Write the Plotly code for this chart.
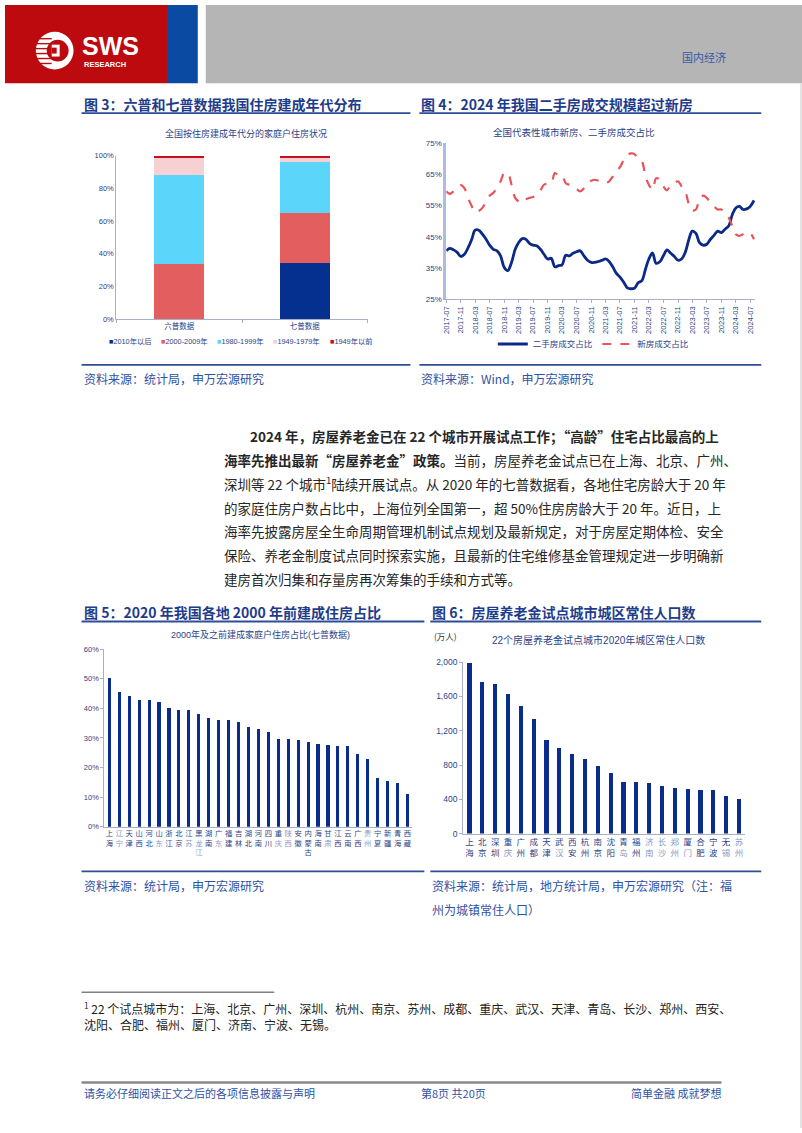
import plotly.graph_objects as go
import pandas as pd

W, H = 802, 1133


def px(x):
    return x / W


def py(y):
    return 1 - y / H


# ---------------- data ----------------
census_cats = ["六普数据", "七普数据"]
era_names = ["2010年以后", "2000-2009年", "1980-1999年", "1949-1979年", "1949年以前"]
era_colors = ["#06308F", "#E35F5F", "#5CD5FA", "#F7D0D4", "#C4101E"]
era_6th = [0.0, 34.0, 54.3, 10.4, 1.3]
era_7th = [34.5, 30.5, 31.0, 3.1, 0.9]

month_start = "2017-07-01"
second_hand = [40.5, 41.3, 40.8, 40.0, 38.7, 39.4, 41.5, 44.2, 47.1, 47.1, 45.8, 44.2,
               42.3, 41.0, 40.5, 38.9, 35.2, 34.2, 36.8, 41.0, 43.1, 44.4, 44.2, 42.9,
               42.3, 42.1, 41.0, 39.4, 37.9, 38.1, 35.4, 35.8, 36.0, 39.1, 38.9, 39.7,
               40.2, 40.5, 38.9, 37.5, 36.8, 36.8, 37.1, 37.5, 37.9, 37.1, 35.4, 33.3,
               32.1, 30.5, 28.7, 28.4, 28.6, 30.3, 31.0, 34.7, 37.9, 39.8, 36.5, 37.0,
               38.9, 40.8, 39.7, 38.7, 37.5, 37.9, 40.0, 44.2, 46.8, 46.1, 43.1, 42.3,
               42.6, 44.2, 45.5, 46.8, 46.3, 47.4, 48.4, 52.1, 54.2, 54.7, 53.7, 53.9,
               54.7, 56.6]
new_house = [59.5, 58.7, 59.5, 60.2, 61.5, 60.5, 57.4, 54.7, 52.8, 53.2, 54.2, 56.3,
             58.1, 59.0, 60.5, 62.7, 65.3, 65.3, 61.6, 57.4, 56.3, 55.8, 56.9, 57.4,
             57.7, 58.4, 59.8, 61.6, 62.0, 62.1, 65.3, 64.5, 64.5, 62.1, 61.6, 61.1,
             60.2, 59.5, 60.5, 62.1, 62.9, 63.2, 62.9, 62.4, 62.1, 62.7, 64.2, 66.1,
             67.2, 69.5, 71.1, 71.6, 71.4, 69.5, 69.0, 64.2, 61.6, 60.0, 63.7, 63.2,
             61.1, 59.8, 61.6, 62.1, 62.7, 61.1, 59.5, 55.3, 53.4, 53.7, 57.1, 58.1,
             57.4, 55.8, 54.7, 53.7, 53.7, 52.6, 51.1, 48.4, 45.8, 45.3, 45.8, 46.3,
             46.1, 44.2]

provinces = ["上海", "辽宁", "天津", "山西", "河北", "山东", "浙江", "北京", "江苏", "黑龙江",
             "湖南", "广东", "福建", "吉林", "湖北", "河南", "四川", "重庆", "陕西", "安徽",
             "内蒙古", "海南", "甘肃", "江西", "云南", "广西", "贵州", "宁夏", "新疆", "青海", "西藏"]
old_share = [50.3, 45.5, 44.1, 42.8, 42.7, 42.2, 40.2, 39.4, 39.3, 38.0,
             36.9, 36.1, 36.0, 35.5, 33.6, 33.0, 32.1, 29.6, 29.5, 29.2,
             28.8, 27.8, 27.5, 27.4, 27.2, 24.6, 22.8, 16.4, 15.6, 14.7, 11.2]

cities = ["上海", "北京", "深圳", "重庆", "广州", "成都", "天津", "武汉", "西安", "杭州", "南京",
          "沈阳", "青岛", "福州", "济南", "长沙", "郑州", "厦门", "合肥", "宁波", "无锡", "苏州"]
city_pop = [1988, 1768, 1741, 1632, 1486, 1335, 1091, 994, 928, 874, 789,
            708, 603, 600, 588, 553, 534, 515, 511, 507, 441, 402]

pct_ticks_a = [0, 20, 40, 60, 80, 100]
pct_ticks_b = [25, 35, 45, 55, 65, 75]
pct_ticks_c = [0, 10, 20, 30, 40, 50, 60]
pop_ticks = [0, 400, 800, 1200, 1600, 2000]

# ---------------- styles ----------------
FONT = "Liberation Sans, Noto Sans CJK SC, sans-serif"
CJK = "Noto Sans CJK SC, sans-serif"
BLUE_TXT = "#2B3F88"
LIGHT_TXT = "#8C98C4"
TITLE_BLUE = "#1E3C8C"
SRC_BLUE = "#2F51A3"
AXIS_GRAY = "#A8AFC8"
BAR_BLUE = "#0A2C8D"


def stacked(name, light_set):
    out = []
    for ch in name:
        if ch in light_set:
            out.append(f"<span style='color:{LIGHT_TXT}'>{ch}</span>")
        else:
            out.append(ch)
    return "<br>".join(out)


def pct(vals):
    return [f"{v}%" for v in vals]


light_prov = {"辽宁": set("辽宁"), "山东": set("东"), "江苏": set("苏"), "黑龙江": set("龙江"),
              "广东": set("东"), "重庆": set("庆"), "陕西": set("陕西"), "甘肃": set("肃"),
              "贵州": set("贵州")}
light_city = {"重庆": set("庆"), "武汉": set("汉"), "青岛": set("岛"), "济南": set("济南"),
              "长沙": set("长沙"), "郑州": set("郑州"), "厦门": set("门"), "无锡": set("锡"),
              "苏州": set("苏州")}

fig = go.Figure()

# ---------- chart 3: stacked bars ----------
for i, nm in enumerate(era_names):
    fig.add_trace(go.Bar(
        x=census_cats, y=[era_6th[i], era_7th[i]], name=nm,
        marker=dict(color=era_colors[i], line=dict(width=0)),
        width=0.4, xaxis="x", yaxis="y", showlegend=False))

# ---------- chart 4: lines ----------
dates = pd.date_range(month_start, periods=len(second_hand), freq="MS")
fig.add_trace(go.Scatter(x=dates, y=second_hand, name="二手房成交占比", mode="lines",
                         line=dict(color="#0B2A88", width=2.8, shape="spline"),
                         xaxis="x2", yaxis="y2"))
fig.add_trace(go.Scatter(x=dates, y=new_house, name="新房成交占比", mode="lines",
                         line=dict(color="#E8545A", width=2.2, dash="dash", shape="spline"),
                         xaxis="x2", yaxis="y2"))

# ---------- chart 5 ----------
fig.add_trace(go.Bar(x=list(range(len(provinces))), y=old_share, width=0.32,
                     marker=dict(color=BAR_BLUE, line=dict(width=0)),
                     xaxis="x3", yaxis="y3", showlegend=False))

# ---------- chart 6 ----------
fig.add_trace(go.Bar(x=list(range(len(cities))), y=city_pop, width=0.33,
                     marker=dict(color=BAR_BLUE, line=dict(width=0)),
                     xaxis="x4", yaxis="y4", showlegend=False))


def tickfont(s):
    return dict(family=FONT, size=s, color=BLUE_TXT)


layout = dict(
    width=W, height=H, margin=dict(l=0, r=0, t=0, b=0),
    paper_bgcolor="white", plot_bgcolor="rgba(0,0,0,0)",
    barmode="stack", font=dict(family=FONT),
    showlegend=True,
    legend=dict(orientation="h", x=px(592), y=py(342), xanchor="center", yanchor="middle",
                font=dict(family=CJK, size=8.5, color=BLUE_TXT), bgcolor="rgba(0,0,0,0)",
                itemwidth=30, traceorder="normal"),
    # chart 3
    xaxis=dict(domain=[px(112), px(365)], anchor="y", showgrid=False, showline=True,
               linecolor=AXIS_GRAY, linewidth=1, ticks="outside", ticklen=3,
               tickcolor=AXIS_GRAY, tickson="boundaries", tickangle=0,
               tickfont=dict(family=CJK, size=7.5, color=BLUE_TXT)),
    yaxis=dict(domain=[py(317), py(152)], anchor="x", range=[0, 100], tickvals=pct_ticks_a,
               ticktext=pct(pct_ticks_a), showgrid=False, showline=True, linecolor=AXIS_GRAY,
               linewidth=1, ticks="", tickfont=tickfont(7.5), zeroline=False),
    # chart 4
    xaxis2=dict(domain=[px(444), px(755)], anchor="y2", type="date",
                range=["2017-07-01", "2024-08-12"], tick0="2017-07-01", dtick="M4",
                tickformat="%Y-%m", tickangle=-90, showgrid=False, showline=True,
                linecolor=AXIS_GRAY, linewidth=1, ticks="outside", ticklen=3,
                tickcolor=AXIS_GRAY, tickfont=tickfont(7.5)),
    yaxis2=dict(domain=[py(297), py(139)], anchor="x2", range=[25, 75], tickvals=pct_ticks_b,
                ticktext=pct(pct_ticks_b), showgrid=False, showline=True, linecolor="#AEBBE0",
                linewidth=2.5, ticks="", tickfont=tickfont(8), zeroline=False),
    # chart 5
    xaxis3=dict(domain=[px(100), px(410)], anchor="y3", range=[-0.5, len(provinces) - 0.5],
                tickvals=list(range(len(provinces))),
                ticktext=[stacked(p, light_prov.get(p, set())) for p in provinces],
                tickangle=0, showgrid=False, showline=True, linecolor=AXIS_GRAY, linewidth=1,
                ticks="", tickfont=dict(family=CJK, size=7.3, color=BLUE_TXT)),
    yaxis3=dict(domain=[py(829), py(650)], anchor="x3", range=[0, 60], tickvals=pct_ticks_c,
                ticktext=pct(pct_ticks_c), showgrid=False, showline=True, linecolor=AXIS_GRAY,
                linewidth=1, ticks="outside", ticklen=3, tickcolor=AXIS_GRAY,
                tickfont=tickfont(7.5), zeroline=False),
    # chart 6
    xaxis4=dict(domain=[px(461), px(745)], anchor="y4", range=[-0.5, len(cities) - 0.5],
                tickvals=list(range(len(cities))),
                ticktext=[stacked(c, light_city.get(c, set())) for c in cities],
                tickangle=0, showgrid=False, showline=True, linecolor=AXIS_GRAY, linewidth=1,
                ticks="", tickfont=dict(family=CJK, size=8.5, color=BLUE_TXT)),
    yaxis4=dict(domain=[py(836), py(663)], anchor="x4", range=[0, 2000], tickvals=pop_ticks,
                tickformat=",", showgrid=False, showline=True, linecolor=AXIS_GRAY,
                linewidth=1, ticks="outside", ticklen=3, tickcolor=AXIS_GRAY,
                tickfont=tickfont(8.5), zeroline=False),
)

shapes = []


def rect(x0, y0, x1, y1, color):
    shapes.append(dict(type="rect", xref="paper", yref="paper", x0=px(x0), x1=px(x1),
                       y0=py(y1), y1=py(y0), fillcolor=color, line=dict(width=0), layer="below"))


def hline(x0, x1, y, color, width):
    shapes.append(dict(type="line", xref="paper", yref="paper", x0=px(x0), x1=px(x1),
                       y0=py(y), y1=py(y), line=dict(color=color, width=width)))


# header
rect(0, 0, 163, 79, "#BC0A0F")
rect(163, 0, 194, 79, "#0B4AA3")
rect(202, 0, 802, 79, "#B5B5B5")
# logo
shapes.append(dict(type="circle", xref="paper", yref="paper", x0=px(31), x1=px(69),
                   y0=py(65), y1=py(27), fillcolor="white", line=dict(width=0)))
shapes.append(dict(type="circle", xref="paper", yref="paper", x0=px(42), x1=px(64),
                   y0=py(57), y1=py(35), fillcolor="#BC0A0F", line=dict(width=0)))
for yy in [34, 39, 44, 49, 54, 59]:
    hline(31, 47, yy, "#BC0A0F", 1.4)
shapes.append(dict(type="rect", xref="paper", yref="paper", x0=px(47), x1=px(55),
                   y0=py(52), y1=py(40), fillcolor="white", line=dict(width=0)))
shapes.append(dict(type="rect", xref="paper", yref="paper", x0=px(47), x1=px(52),
                   y0=py(49), y1=py(43), fillcolor="#BC0A0F", line=dict(width=0)))

# section rules
LINE_BLUE = "#2E4C98"
hline(77, 408, 109, LINE_BLUE, 1.8)
hline(417, 761, 109, LINE_BLUE, 1.8)
hline(77, 408, 363, LINE_BLUE, 1.8)
hline(417, 761, 363, LINE_BLUE, 1.8)
hline(77, 422, 622, LINE_BLUE, 1.8)
hline(428, 761, 622, LINE_BLUE, 1.8)
hline(77, 422, 874, LINE_BLUE, 1.8)
hline(428, 761, 874, LINE_BLUE, 1.8)
hline(77, 271, 996, "#808080", 1.5)
hline(77, 721, 1087, "#8A8A8A", 2.5)
# page border
shapes.append(dict(type="line", xref="paper", yref="paper", x0=px(801), x1=px(801),
                   y0=py(1133), y1=py(79), line=dict(color="#C8C8C8", width=1)))

annotations = []


def text(x, y, s, size, color, family=CJK, xanchor="left", yanchor="middle"):
    annotations.append(dict(x=px(x), y=py(y), xref="paper", yref="paper", text=s,
                            showarrow=False, xanchor=xanchor, yanchor=yanchor,
                            font=dict(family=family, size=size, color=color)))


text(106, 41, "<b>SWS</b>", 25, "white", family="Liberation Sans, Arial", xanchor="center")
text(77, 60, "<b>RESEARCH</b>", 7.5, "white", family="Liberation Sans, Arial")
text(703, 52, "国内经济", 11, "#3A5AA8", xanchor="center")

# chart titles
text(77, 100, "<b>图 3：六普和七普数据我国住房建成年代分布</b>", 14, TITLE_BLUE)
text(417, 100, "<b>图 4：2024 年我国二手房成交规模超过新房</b>", 14, TITLE_BLUE)
text(77, 612, "<b>图 5：2020 年我国各地 2000 年前建成住房占比</b>", 14, TITLE_BLUE)
text(428, 612, "<b>图 6：房屋养老金试点城市城区常住人口数</b>", 14, TITLE_BLUE)

# inner chart titles
text(243, 130, "全国按住房建成年代分的家庭户住房状况", 9, BLUE_TXT, xanchor="center")
text(573, 128, "全国代表性城市新房、二手房成交占比", 9.5, BLUE_TXT, xanchor="center")
text(257, 635, "2000年及之前建成家庭户住房占比(七普数据)", 9, BLUE_TXT, family=FONT,
     xanchor="center")
text(597, 641, "22个房屋养老金试点城市2020年城区常住人口数", 10, BLUE_TXT, family=FONT,
     xanchor="center")
text(443, 637, "(万人)", 8.5, "#333333", xanchor="center")

# chart 3 legend
leg_x = [103, 155, 211, 268, 325]
for i, nm in enumerate(era_names):
    text(leg_x[i], 340, f"<span style='color:{era_colors[i]}'>■</span>{nm}", 7.3, BLUE_TXT,
         family=FONT)

# sources
text(77, 377, "资料来源：统计局，申万宏源研究", 12, SRC_BLUE)
text(417, 377, "资料来源：Wind，申万宏源研究", 12, SRC_BLUE)
text(77, 888, "资料来源：统计局，申万宏源研究", 12, SRC_BLUE)
text(428, 888, "资料来源：统计局，地方统计局，申万宏源研究（注：福", 12, SRC_BLUE)
text(428, 913, "州为城镇常住人口）", 12, SRC_BLUE)

# paragraph
para = [
    (245, "<b>2024 年，房屋养老金已在 22 个城市开展试点工作；“高龄”住宅占比最高的上</b>"),
    (218, "<b>海率先推出最新“房屋养老金”政策。</b>当前，房屋养老金试点已在上海、北京、广州、"),
    (218, "深圳等 22 个城市<sup>1</sup>陆续开展试点。从 2020 年的七普数据看，各地住宅房龄大于 20 年"),
    (218, "的家庭住房户数占比中，上海位列全国第一，超 50%住房房龄大于 20 年。近日，上"),
    (218, "海率先披露房屋全生命周期管理机制试点规划及最新规定，对于房屋定期体检、安全"),
    (218, "保险、养老金制度试点同时探索实施，且最新的住宅维修基金管理规定进一步明确新"),
    (218, "建房首次归集和存量房再次筹集的手续和方式等。"),
]
for i, (x0, s) in enumerate(para):
    text(x0, 435 + 24 * i, s, 13.5, "#262626")

# footnote
text(77, 1012, "<sup>1</sup> 22 个试点城市为：上海、北京、广州、深圳、杭州、南京、苏州、成都、重庆、武汉、天津、青岛、长沙、郑州、西安、",
     12, "#222222")
text(77, 1029, "沈阳、合肥、福州、厦门、济南、宁波、无锡。", 12, "#222222")

# footer
text(77, 1098, "请务必仔细阅读正文之后的各项信息披露与声明", 11, SRC_BLUE)
text(451, 1098, "第8页 共20页", 11, SRC_BLUE, xanchor="center")
text(723, 1098, "简单金融 成就梦想", 11, SRC_BLUE, xanchor="right")

layout["shapes"] = shapes
layout["annotations"] = annotations
fig.update_layout(**layout)

fig.write_html("out.html")
